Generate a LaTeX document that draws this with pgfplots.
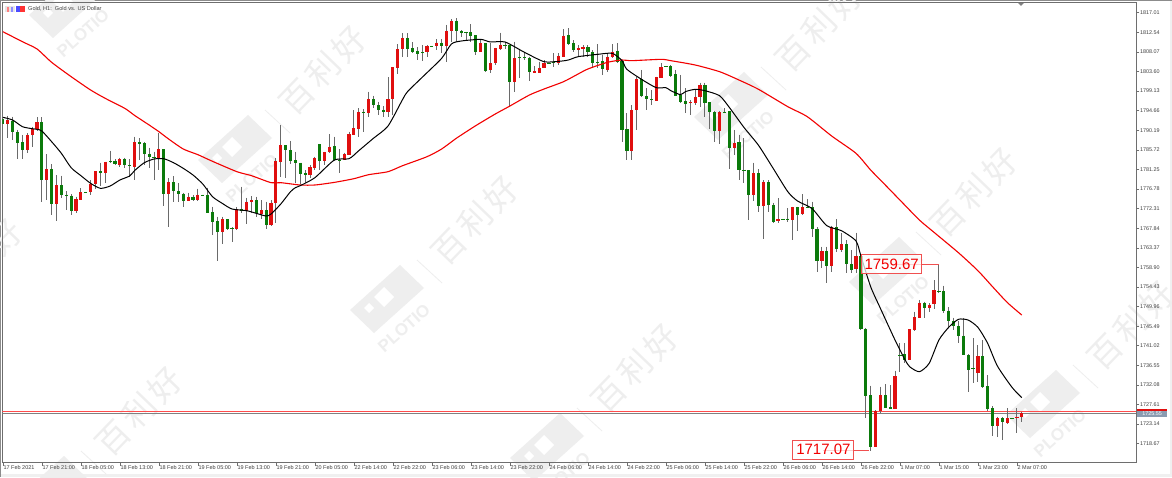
\documentclass[border=0pt]{standalone}
\usepackage{pgfplots}
\usepackage{pgfplotstable}
\usepackage{fontspec}
\pgfplotsset{compat=1.18}
\setmainfont{Liberation Sans}
\newfontfamily\cjk[LetterSpace=12]{Noto Sans CJK SC}
\definecolor{cred}{HTML}{E00F0F}
\definecolor{cgreen}{HTML}{0B7A0B}
\definecolor{cwick}{HTML}{6A6A6A}
\definecolor{wm}{HTML}{EEEEEE}
\definecolor{framec}{HTML}{6E6E6E}
\definecolor{strip}{HTML}{F0F0F0}
\definecolor{pricebox}{HTML}{8A9BB0}
\definecolor{annot}{HTML}{F05050}
\pgfplotstableread{
x o h l c
0 1792.76 1793.14 1791.62 1791.62
1 1791.62 1793.52 1788.50 1792.45
2 1792.38 1793.29 1787.96 1789.71
3 1789.71 1790.25 1783.63 1787.36
4 1787.43 1789.11 1783.55 1785.68
5 1785.68 1789.49 1784.92 1789.11
6 1789.11 1791.01 1786.44 1790.40
7 1790.40 1793.14 1790.09 1792.00
8 1792.00 1793.14 1773.74 1778.76
9 1778.76 1784.77 1774.27 1781.35
10 1781.35 1782.49 1770.85 1773.36
11 1773.36 1779.98 1769.48 1777.62
12 1777.70 1779.83 1774.65 1775.49
13 1775.49 1776.33 1771.99 1775.11
14 1775.26 1775.64 1770.85 1771.84
15 1771.76 1775.03 1771.23 1774.43
16 1774.27 1776.94 1774.27 1776.10
17 1776.15 1776.15 1776.05 1776.05
18 1776.10 1778.84 1775.42 1777.93
19 1777.93 1780.82 1776.71 1780.82
20 1780.82 1782.79 1777.47 1780.43
21 1780.43 1783.02 1778.08 1783.02
22 1783.10 1785.53 1782.64 1782.95
23 1783.10 1783.55 1782.18 1782.49
24 1782.34 1783.93 1781.88 1783.55
25 1783.70 1783.93 1781.50 1782.26
26 1782.26 1783.55 1779.60 1781.96
27 1781.88 1788.73 1778.76 1787.43
28 1787.43 1788.35 1783.40 1787.13
29 1787.20 1787.43 1782.26 1784.85
30 1784.85 1786.22 1781.50 1784.01
31 1784.09 1785.30 1778.76 1783.93
32 1783.86 1789.49 1781.12 1785.91
33 1785.91 1785.91 1772.98 1775.57
34 1775.57 1779.22 1768.19 1778.31
35 1778.31 1779.75 1773.89 1776.25
36 1776.25 1778.08 1773.89 1775.72
37 1775.72 1775.95 1772.60 1774.05
38 1773.97 1775.95 1773.97 1775.03
39 1775.03 1775.42 1773.97 1774.27
40 1774.27 1776.86 1773.97 1775.49
41 1775.53 1775.53 1775.45 1775.45
42 1775.49 1777.09 1771.23 1771.38
43 1771.46 1772.75 1766.29 1769.33
44 1769.41 1770.47 1760.36 1766.90
45 1766.90 1770.47 1764.23 1769.94
46 1769.94 1769.94 1767.43 1767.58
47 1767.81 1768.04 1764.77 1767.58
48 1767.58 1772.60 1767.43 1772.22
49 1772.22 1777.32 1771.38 1771.69
50 1771.69 1774.80 1768.80 1773.89
51 1773.74 1775.19 1771.23 1774.27
52 1774.27 1775.03 1770.47 1771.23
53 1771.16 1774.27 1769.86 1771.99
54 1771.92 1773.89 1767.58 1768.57
55 1768.57 1774.27 1768.34 1773.67
56 1773.67 1783.78 1769.10 1783.10
57 1783.02 1791.31 1779.60 1786.82
58 1786.75 1786.82 1779.22 1785.61
59 1785.68 1787.74 1782.49 1783.25
60 1783.33 1785.30 1778.23 1782.72
61 1782.79 1782.79 1777.93 1780.21
62 1780.36 1781.12 1778.08 1779.98
63 1779.98 1782.26 1779.22 1781.73
64 1781.65 1784.16 1781.12 1783.86
65 1786.98 1786.98 1781.12 1783.17
66 1783.17 1785.30 1782.26 1785.23
67 1785.15 1789.33 1784.92 1786.44
68 1786.52 1788.73 1783.25 1783.40
69 1783.48 1785.91 1780.51 1783.33
70 1783.40 1785.07 1783.40 1784.69
71 1784.54 1789.87 1784.54 1789.26
72 1789.11 1794.81 1789.11 1790.63
73 1790.55 1795.19 1788.57 1794.43
74 1794.43 1794.96 1789.87 1794.13
75 1794.05 1799.00 1793.29 1797.24
76 1797.24 1798.08 1795.19 1795.87
77 1795.87 1796.71 1793.67 1794.89
78 1794.89 1795.72 1793.14 1794.35
79 1794.35 1802.26 1793.29 1797.24
80 1797.24 1804.55 1793.67 1804.55
81 1804.32 1809.79 1803.03 1808.73
82 1808.73 1812.30 1806.98 1811.24
83 1811.24 1812.30 1806.98 1808.81
84 1808.88 1810.25 1807.74 1808.05
85 1808.35 1809.11 1806.22 1807.66
86 1807.97 1809.64 1805.99 1807.82
87 1807.97 1809.64 1806.98 1809.41
88 1809.45 1809.45 1809.37 1809.37
89 1809.41 1811.01 1808.50 1810.17
90 1810.17 1811.01 1807.74 1809.41
91 1809.41 1814.21 1805.84 1812.91
92 1812.84 1815.50 1810.40 1815.12
93 1815.12 1815.73 1810.40 1812.84
94 1812.91 1813.06 1811.39 1812.46
95 1812.53 1812.68 1810.78 1812.30
96 1812.53 1814.43 1810.40 1811.77
97 1811.85 1811.85 1807.36 1808.12
98 1808.12 1810.78 1808.12 1810.02
99 1810.02 1810.02 1803.56 1803.79
100 1803.94 1810.02 1803.33 1805.46
101 1805.46 1809.03 1805.08 1808.88
102 1808.81 1812.46 1808.50 1809.72
103 1809.68 1810.40 1808.65 1809.60
104 1809.64 1809.64 1795.42 1801.27
105 1801.27 1810.40 1799.00 1806.68
106 1806.83 1808.65 1802.04 1806.60
107 1806.83 1808.12 1806.22 1806.60
108 1806.60 1806.98 1801.50 1803.56
109 1803.33 1804.85 1803.18 1803.71
110 1803.33 1805.84 1803.18 1804.47
111 1804.32 1806.22 1804.32 1805.46
112 1805.62 1805.62 1805.54 1805.54
113 1805.69 1807.74 1804.70 1805.53
114 1805.59 1807.74 1805.08 1807.21
115 1806.98 1813.22 1806.98 1811.77
116 1811.92 1813.44 1809.64 1809.87
117 1810.02 1810.78 1808.12 1808.43
118 1808.50 1809.64 1806.83 1808.88
119 1808.81 1809.64 1806.98 1809.11
120 1809.18 1809.64 1806.98 1807.97
121 1808.05 1808.50 1804.47 1805.61
122 1805.84 1809.87 1804.32 1805.61
123 1805.91 1807.36 1802.80 1804.09
124 1804.01 1807.74 1803.56 1806.98
125 1806.98 1809.87 1806.60 1808.12
126 1808.35 1810.02 1805.46 1805.84
127 1806.07 1806.07 1787.58 1790.32
128 1790.47 1794.05 1783.40 1785.46
129 1785.46 1795.95 1783.40 1794.81
130 1794.81 1802.42 1790.25 1801.88
131 1801.88 1803.94 1797.85 1798.00
132 1798.00 1799.76 1794.81 1797.24
133 1797.32 1799.37 1795.95 1797.09
134 1796.94 1802.42 1796.94 1802.34
135 1802.19 1805.46 1802.04 1804.62
136 1804.74 1804.74 1804.66 1804.66
137 1804.85 1805.08 1802.42 1802.64
138 1802.95 1803.94 1798.00 1798.00
139 1798.16 1802.80 1796.48 1796.71
140 1796.86 1799.76 1794.20 1796.18
141 1796.33 1797.09 1793.67 1796.56
142 1796.48 1799.37 1795.95 1797.70
143 1797.70 1801.05 1795.42 1800.44
144 1800.44 1801.05 1793.14 1796.48
145 1796.56 1796.56 1790.40 1794.28
146 1794.28 1794.66 1787.58 1790.09
147 1790.09 1794.66 1787.05 1794.28
148 1794.35 1795.19 1794.05 1794.20
149 1794.58 1794.58 1781.35 1786.14
150 1786.22 1790.25 1784.54 1787.36
151 1787.51 1789.11 1778.84 1781.12
152 1781.20 1788.35 1778.08 1780.97
153 1781.12 1781.12 1769.71 1775.42
154 1775.42 1782.79 1774.12 1780.36
155 1780.36 1781.27 1771.61 1772.91
156 1772.91 1778.84 1765.30 1778.31
157 1778.31 1778.84 1771.61 1773.06
158 1773.13 1773.67 1769.10 1769.33
159 1769.41 1774.65 1768.95 1769.94
160 1769.98 1769.98 1769.90 1769.90
161 1770.01 1772.37 1769.33 1769.86
162 1769.71 1772.75 1765.15 1772.60
163 1772.60 1772.75 1767.28 1770.85
164 1771.00 1775.57 1770.85 1772.68
165 1772.75 1774.43 1772.60 1772.60
166 1772.68 1773.89 1765.91 1767.73
167 1767.73 1768.04 1757.92 1760.43
168 1760.43 1763.63 1758.68 1762.56
169 1762.56 1763.63 1755.26 1759.21
170 1759.21 1768.42 1757.92 1768.19
171 1768.04 1769.86 1762.48 1763.02
172 1762.94 1766.67 1762.48 1764.16
173 1764.16 1765.15 1757.54 1759.67
174 1759.59 1762.86 1757.54 1758.30
175 1758.45 1766.82 1757.69 1761.57
176 1761.57 1761.57 1744.61 1744.84
177 1744.84 1744.99 1724.45 1729.63
178 1729.70 1731.91 1717.07 1717.99
179 1717.99 1726.36 1717.84 1726.21
180 1726.13 1731.68 1725.60 1729.70
181 1729.70 1732.29 1726.74 1726.89
182 1727.04 1732.06 1726.51 1726.59
183 1726.66 1735.33 1726.66 1734.12
184 1738.98 1741.57 1735.10 1738.75
185 1739.06 1741.57 1737.01 1737.77
186 1737.84 1744.84 1737.77 1744.84
187 1744.69 1748.79 1744.38 1747.58
188 1747.43 1751.46 1747.43 1750.85
189 1750.85 1751.08 1747.43 1749.71
190 1749.71 1750.70 1748.79 1750.39
191 1750.54 1756.02 1749.33 1753.66
192 1753.59 1759.67 1753.13 1753.36
193 1753.51 1754.73 1748.41 1749.02
194 1749.02 1749.78 1745.37 1746.66
195 1746.66 1747.43 1744.61 1745.45
196 1745.45 1746.66 1741.57 1743.32
197 1743.32 1747.27 1738.91 1738.98
198 1738.91 1739.06 1730.54 1735.56
199 1735.94 1742.71 1732.59 1735.79
200 1734.72 1741.19 1732.67 1738.68
201 1738.68 1742.33 1731.30 1731.68
202 1731.83 1734.35 1726.21 1726.66
203 1726.74 1727.27 1720.43 1722.78
204 1722.78 1724.83 1720.27 1724.45
205 1724.45 1724.68 1719.51 1723.62
206 1723.47 1726.74 1723.16 1724.45
207 1724.49 1724.49 1724.41 1724.41
208 1724.45 1726.74 1721.03 1724.83
209 1724.68 1725.98 1723.69 1725.67
}\bars
\newcommand{\wlogo}[2]{%
\begin{scope}[shift={(#1pt,477pt-#2pt)},y=-1pt,x=1pt]
\fill[wm] (0,0)--(24,23)--(-26,68)--(-50,45)--cycle;
\fill[white] (-16,22)--(-6,32)--(-16,42)--(-26,32)--cycle;
\fill[white] (-31,38)--(-26,43)--(-31,48)--(-36,43)--cycle;
\draw[wm,line width=0.8pt] (17,-5)--(42,18);
\node[rotate=42,text=wm,font=\bfseries\fontsize{17}{17}\selectfont] at (4,63) {PLOTIO};
\end{scope}}
\newcommand{\wmark}[2]{\wlogo{#1}{#2}%
\begin{scope}[shift={(#1pt,477pt-#2pt)},y=-1pt,x=1pt]
\node[rotate=46,text=wm,font=\cjk\fontsize{33}{33}\selectfont] at (75,-45) {百利好};
\end{scope}}
\begin{document}
\begin{tikzpicture}
\clip[use as bounding box] (0,0) rectangle (1172pt,477pt);
\fill[white] (0,0) rectangle (1172pt,477pt);
\fill[strip] (0,0) rectangle (1172pt,3.5pt);
\fill[strip] (1169.5pt,0) rectangle (1172pt,477pt);
\fill[black!45] (0,476pt) rectangle (1172pt,477pt);
\fill[black!45] (0,0) rectangle (1pt,477pt);
\wmark{248}{115}
\wlogo{79}{-30}
\wmark{744}{72}
\wmark{400}{265}
\wmark{899}{237}
\wmark{1056}{370}
\wmark{560}{413}
\wmark{64}{456}
\wmark{-96}{308}
\begin{axis}[
  at={(2.5pt,14.3pt)},anchor=south west,scale only axis,
  width=1133.8pt,height=460.2pt,
  xmin=-0.08,xmax=232.49,ymin=1714.34,ymax=1819.34,
  clip=true,
  axis line style={draw=framec,line width=0.8pt},
  xtick pos=left,ytick pos=right,
  tick align=outside,major tick length=3pt,
  tick style={draw=framec,line width=0.6pt},
  scaled ticks=false,
  xtick={0,8,16,24,32,40,48,56,64,72,80,88,96,104,112,120,128,136,144,152,160,168,176,184,192,200,208},
  xticklabels={17 Feb 2021,17 Feb 21:00,18 Feb 05:00,18 Feb 13:00,18 Feb 21:00,19 Feb 05:00,19 Feb 13:00,19 Feb 21:00,20 Feb 05:00,22 Feb 14:00,22 Feb 22:00,23 Feb 06:00,23 Feb 14:00,23 Feb 22:00,24 Feb 06:00,24 Feb 14:00,24 Feb 22:00,25 Feb 06:00,25 Feb 14:00,25 Feb 22:00,26 Feb 06:00,26 Feb 14:00,26 Feb 22:00,1 Mar 07:00,1 Mar 15:00,1 Mar 23:00,2 Mar 07:00},
  xticklabel style={anchor=north west,font=\fontsize{5.5}{6}\selectfont,inner xsep=0.5pt,inner ysep=0pt,text=black!75},
  ytick={1817.01,1812.54,1808.07,1803.60,1799.13,1794.66,1790.19,1785.72,1781.25,1776.78,1772.31,1767.84,1763.37,1758.90,1754.43,1749.96,1745.49,1741.02,1736.55,1732.08,1727.61,1723.14,1718.67},
  yticklabel style={/pgf/number format/.cd,fixed,fixed zerofill,precision=2,1000 sep={},assume math mode=true,/tikz/.cd,font=\fontsize{5.4}{6}\selectfont,anchor=west,inner xsep=0.5pt,text=black!75},
]
% horizontal price lines
\addplot[forget plot,color=red!70,line width=0.7pt] coordinates {(-0.08,1725.97)(232.49,1725.97)};
\addplot[forget plot,color=black!50,line width=0.7pt] coordinates {(-0.08,1725.6)(232.49,1725.6)};
% wicks
\addplot[forget plot,draw=none,mark=none,error bars/.cd,y dir=minus,y explicit,error mark=none,error bar style={line width=0.9pt,draw=cwick,solid}]
  table[x=x,y=h,y error minus expr=\thisrow{h}-\thisrow{l}] {\bars};
% up bodies
\addplot[forget plot,draw=none,mark=none,error bars/.cd,y dir=minus,y explicit,error mark=none,error bar style={line width=3.2pt,draw=cred,solid}]
  table[x=x,y expr={\thisrow{c}>\thisrow{o} ? \thisrow{c} : nan},y error minus expr=abs(\thisrow{c}-\thisrow{o})] {\bars};
% down bodies
\addplot[forget plot,draw=none,mark=none,error bars/.cd,y dir=minus,y explicit,error mark=none,error bar style={line width=3.2pt,draw=cgreen,solid}]
  table[x=x,y expr={\thisrow{c}<\thisrow{o} ? \thisrow{o} : nan},y error minus expr=abs(\thisrow{c}-\thisrow{o})] {\bars};
% slow average
\addplot[forget plot,color=red!95!black,line width=1.1pt,smooth,tension=0.4] coordinates {
(0,1812.68)(4,1810.40)(7,1808.73)(10,1805.69)(14,1802.42)(18,1799.37)(21,1797.47)(25,1795.19)(27,1793.59)(30,1791.39)(32,1789.87)(34,1788.19)(37,1785.91)(40,1784.62)(43,1783.10)(48,1780.74)(51,1779.83)(55,1778.23)(57,1778.23)(61,1777.70)(64,1777.70)(68,1778.30)(72,1779.14)(75,1780.05)(79,1780.74)(82,1782.11)(87,1784.16)(90,1785.91)(93,1788.35)(97,1791.24)(101,1793.90)(104,1795.72)(108,1798.23)(111,1799.60)(115,1801.27)(118,1803.03)(120,1804.17)(124,1805.69)(127,1806.22)(129,1806.07)(135,1806.37)(137,1806.07)(142,1805.08)(147,1803.56)(151,1801.65)(155,1799.53)(161,1795.57)(165,1793.29)(170,1788.88)(175,1784.92)(178,1781.12)(181,1777.70)(184,1774.27)(188,1769.71)(191,1766.90)(196,1762.26)(200,1758.15)(203,1754.50)(206,1750.92)(209,1748.03)};
% fast average
\addplot[forget plot,color=black,line width=1.0pt,smooth,tension=0.4] coordinates {
(0,1793.14)(2,1792.53)(4,1791.01)(6,1790.55)(7,1790.40)(8,1790.02)(10,1787.58)(12,1784.92)(14,1781.65)(16,1779.83)(18,1778.08)(20,1776.94)(22,1777.47)(24,1778.84)(26,1779.75)(27,1780.97)(29,1782.79)(31,1783.63)(33,1783.70)(35,1782.79)(37,1781.50)(39,1779.98)(41,1777.93)(43,1775.03)(45,1773.51)(47,1772.22)(50,1771.84)(52,1771.23)(54,1770.62)(55,1771.08)(57,1773.36)(59,1776.18)(60,1777.09)(61,1777.55)(64,1779.37)(68,1783.40)(71,1783.70)(73,1785.53)(76,1788.35)(79,1791.16)(82,1797.24)(83,1799.00)(86,1802.26)(90,1806.60)(92,1809.87)(94,1810.55)(98,1810.93)(100,1810.33)(103,1810.33)(107,1807.97)(111,1805.84)(114,1805.91)(116,1806.22)(118,1806.98)(122,1807.51)(125,1807.74)(127,1806.07)(128,1804.09)(131,1801.81)(134,1799.91)(136,1799.91)(137,1799.22)(139,1798.31)(140,1799.00)(142,1799.53)(144,1799.22)(147,1798.08)(149,1795.42)(152,1790.86)(155,1786.75)(158,1781.50)(161,1776.18)(163,1774.05)(166,1772.30)(169,1768.42)(172,1767.28)(175,1764.92)(176,1761.50)(178,1754.50)(180,1749.55)(183,1742.33)(185,1737.92)(186,1736.24)(188,1735.10)(190,1737.01)(192,1742.33)(194,1745.22)(196,1747.05)(198,1746.89)(200,1745.22)(202,1741.57)(204,1736.40)(207,1731.53)(209,1729.17)};
% annotation leaders and boxes
\draw[annot,line width=0.7pt] (axis cs:182.3,1759.67) -- (axis cs:192,1759.67);
\draw[annot,line width=0.7pt] (axis cs:168.3,1717.07) -- (axis cs:177.6,1717.07);
\node[draw=annot,line width=0.8pt,fill=white,fill opacity=0.75,text opacity=1,text=red!95!black,minimum width=60pt,minimum height=19pt,inner sep=0pt,font=\fontsize{15}{15}\selectfont] at (axis cs:182.3,1759.67) {1759.67};
\node[draw=annot,line width=0.8pt,fill=white,fill opacity=0.75,text opacity=1,text=red!95!black,minimum width=61pt,minimum height=19pt,inner sep=0pt,font=\fontsize{15}{15}\selectfont] at (axis cs:168.3,1717.35) {1717.07};
\end{axis}
% chart header
\fill[black!10] (5pt,464.5pt) rectangle (15pt,471pt);
\fill[red!50] (6.5pt,465pt) rectangle (8.5pt,470pt);
\fill[blue!45] (11pt,465pt) rectangle (13pt,470pt);
\fill[blue!70] (16pt,465pt) rectangle (20pt,471pt);
\fill[red!80] (20pt,465pt) rectangle (25pt,471pt);
\node[anchor=west,inner sep=0pt,text=black!75,font=\fontsize{5.6}{6}\selectfont] at (28pt,468pt) {Gold, H1:\ \ Gold vs. US Dollar};
% chart-shift marker
\fill[black!50] (1018pt,474.2pt) -- (1024pt,474.2pt) -- (1021pt,471pt) -- cycle;
% current price tags
\fill[cred] (1137pt,66.5pt) rectangle (1167pt,68.5pt);
\fill[pricebox] (1137pt,60.5pt) rectangle (1167pt,66.5pt);
\node[inner sep=0pt,text=white,font=\fontsize{5.4}{6}\selectfont] at (1152pt,63.6pt) {1725.55};
\end{tikzpicture}
\end{document}
